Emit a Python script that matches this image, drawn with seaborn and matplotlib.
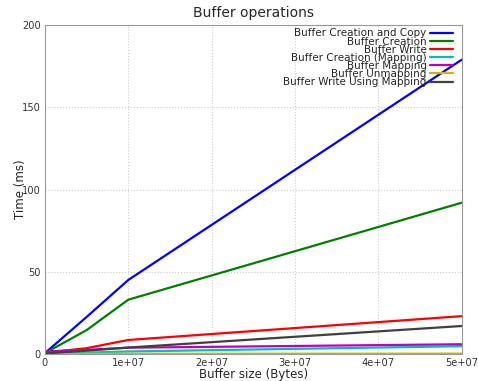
import pandas as pd
import matplotlib
matplotlib.use("Agg")
import matplotlib.pyplot as plt
import seaborn as sns

# data
sizes = [0, 5e6, 1e7, 5e7]
creation_copy = [0.5, 22.5, 45, 179]
creation = [0.5, 14.5, 33, 92]
write = [0.8, 3.5, 8.5, 23]
creation_mapping = [0.2, 0.8, 1.5, 4.7]
mapping = [1.5, 2.5, 3.8, 5.9]
unmapping = [0.1, 0.1, 0.1, 0.2]
write_mapping = [0.3, 2.0, 3.9, 17]

series = {
    "Buffer Creation and Copy": creation_copy,
    "Buffer Creation": creation,
    "Buffer Write": write,
    "Buffer Creation (Mapping)": creation_mapping,
    "Buffer Mapping": mapping,
    "Buffer Unmapping": unmapping,
    "Buffer Write Using Mapping": write_mapping,
}
colors = ["#0000ff", "#008000", "#ff0000", "#00bfbf", "#bf00bf", "#bfbf00", "#404040"]

rows = []
for name, vals in series.items():
    for s, v in zip(sizes, vals):
        rows.append({"size": s, "time": v, "op": name})
df = pd.DataFrame(rows)

sns.set_style("whitegrid", {"grid.linestyle": ":", "grid.color": "#cccccc",
                            "axes.edgecolor": "#999999"})
plt.rcParams["font.family"] = ["DejaVu Sans"]

fig = plt.figure(figsize=(4.78, 3.81), dpi=100)
ax = fig.add_axes([0.094, 0.071, 0.872, 0.863])

sns.lineplot(data=df, x="size", y="time", hue="op", palette=colors,
             linewidth=1.6, ax=ax, legend=True)

ax.set_xlim(0, 5e7)
ax.set_ylim(0, 200)
ax.set_xticks([0, 1e7, 2e7, 3e7, 4e7, 5e7])
ax.set_xticklabels(["0", "1e+07", "2e+07", "3e+07", "4e+07", "5e+07"])
ax.set_yticks([0, 50, 100, 150, 200])
ax.tick_params(labelsize=7.1, colors="#333333", length=0, pad=3)
ax.set_title("Buffer operations", fontsize=10, pad=6)
ax.set_xlabel("Buffer size (Bytes)", fontsize=8.5, labelpad=0)
ax.set_ylabel("Time (ms)", fontsize=8.5, labelpad=-4)

ax.legend(loc="upper right", bbox_to_anchor=(0.993, 1.009), frameon=False,
          markerfirst=False, fontsize=7.5, labelspacing=-0.18,
          handlelength=2.2, handletextpad=0.3,
          borderaxespad=0.4, borderpad=0.2)

plt.savefig("out.png", dpi=100)
